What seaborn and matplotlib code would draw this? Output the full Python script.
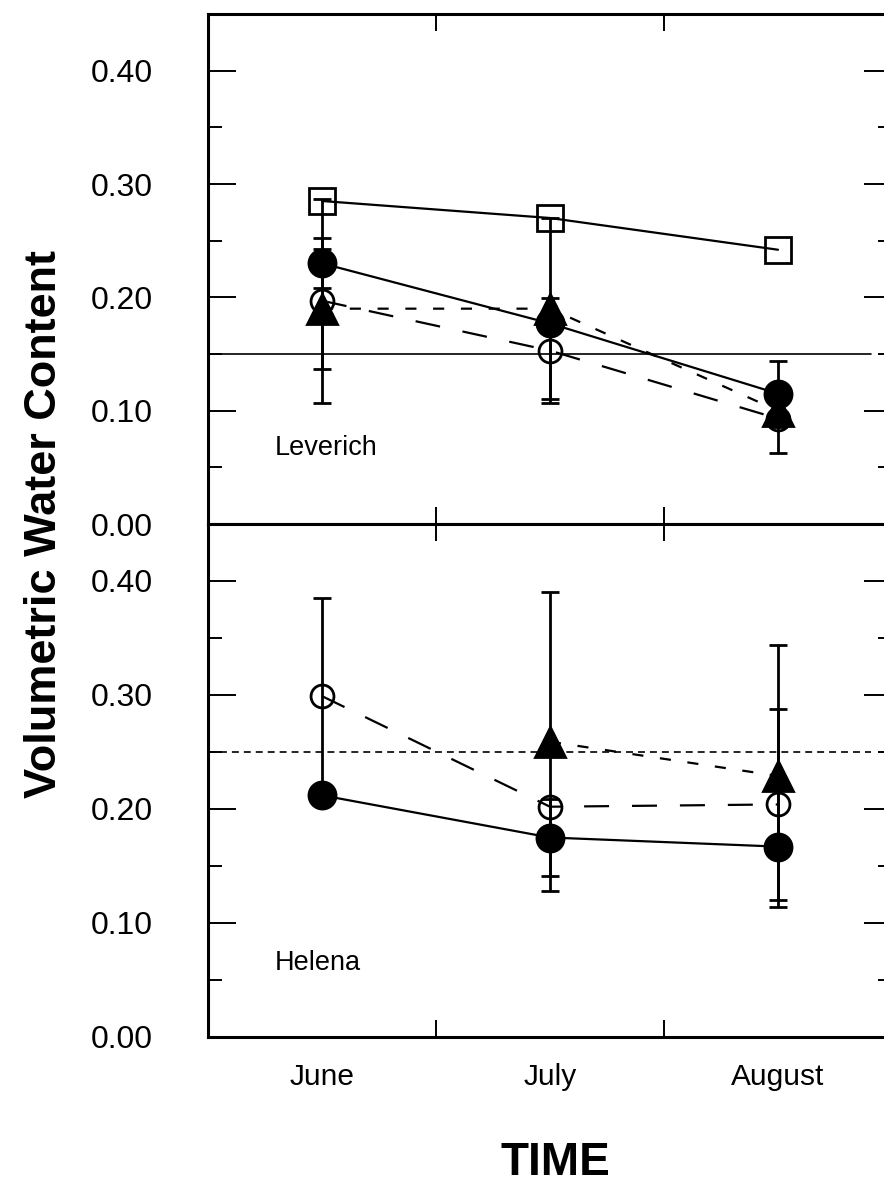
import matplotlib
matplotlib.use("Agg")
import numpy as np
import pandas as pd
import seaborn as sns
import matplotlib.pyplot as plt
from matplotlib.ticker import FormatStrFormatter, FixedLocator

# ---------------- data ----------------
months = ["June", "July", "August"]
sites = ["Leverich", "Helena"]

lev_square = [0.285, 0.270, 0.242]
lev_fcircle = [0.230, 0.177, 0.115]
lev_ocircle = [0.197, 0.153, 0.093]
lev_triangle = [0.190, 0.190, 0.100]
lev_square_err = [np.nan, np.nan, np.nan]
lev_fcircle_err = [0.022, np.nan, 0.029]
lev_ocircle_err = [0.090, 0.046, 0.030]
lev_triangle_err = [0.053, 0.080, np.nan]

hel_fcircle = [0.212, 0.175, 0.167]
hel_ocircle = [0.299, 0.202, 0.204]
hel_triangle = [np.nan, 0.259, 0.229]
hel_fcircle_err = [np.nan, 0.034, np.nan]
hel_ocircle_err = [0.086, np.nan, 0.084]
hel_triangle_err = [np.nan, 0.131, 0.115]

ref_levels = {"Leverich": 0.15, "Helena": 0.25}

rows = []
def add(site, series, vals, errs):
    for m, v, e in zip(months, vals, errs):
        rows.append(dict(site=site, series=series, month=m, value=v, err=e))

add("Leverich", "ocircle", lev_ocircle, lev_ocircle_err)
add("Leverich", "square", lev_square, lev_square_err)
add("Leverich", "triangle", lev_triangle, lev_triangle_err)
add("Leverich", "fcircle", lev_fcircle, lev_fcircle_err)
add("Helena", "ocircle", hel_ocircle, hel_ocircle_err)
add("Helena", "triangle", hel_triangle, hel_triangle_err)
add("Helena", "fcircle", hel_fcircle, hel_fcircle_err)
df = pd.DataFrame(rows)
df["pos"] = df["month"].map({m: i for i, m in enumerate(months)})

# ---------------- style ----------------
sns.set_theme(style="white")
plt.rcParams["font.family"] = ["Liberation Sans", "DejaVu Sans"]
plt.rcParams["lines.scale_dashes"] = False
for key in ["text.color", "axes.labelcolor", "xtick.color", "ytick.color", "axes.edgecolor"]:
    plt.rcParams[key] = "black"

LONG = (0, (18, 16.5))
SHORT = (0, (8, 12))
styles = {
    "square":   dict(marker="s", ms=19, mfc="none", ls="-"),
    "fcircle":  dict(marker="o", ms=19.5, mfc="black", ls="-"),
    "ocircle":  dict(marker="o", ms=16.5, mfc="none", ls=LONG),
    "triangle": dict(marker="^", ms=22, mfc="black", ls=SHORT),
}

W, H = 884, 1191
fig = plt.figure(figsize=(W / 100, H / 100), dpi=100)
left = 208 / W
width = (892 - 208) / W
ax_top = fig.add_axes([left, (H - 524) / H, width, (524 - 14) / H])
ax_bot = fig.add_axes([left, (H - 1037) / H, width, (1037 - 524) / H])

for ax, site in zip([ax_top, ax_bot], sites):
    sub = df[df.site == site]
    for s in sub.series.unique():
        d = sub[(sub.series == s)].dropna(subset=["value"])
        st = styles[s]
        ax.errorbar(d["pos"], d["value"], yerr=d["err"], fmt="none", ecolor="black",
                    elinewidth=2.0, capsize=6.5, capthick=2.0, zorder=1.5)
        sns.lineplot(data=d, x="pos", y="value", ax=ax, color="black", linewidth=1.6,
                     linestyle=st["ls"], marker=st["marker"], markersize=st["ms"],
                     markerfacecolor=st["mfc"], markeredgecolor="black",
                     markeredgewidth=2.0, sort=False, estimator=None,
                     errorbar=None, legend=False, zorder=2)
    lvl = ref_levels[site]
    ax.axhline(lvl, xmin=0, xmax=0.969, color="black", lw=1.2,
               ls="-" if site == "Leverich" else (0, (5, 3.6)), zorder=1)

    ax.set_xlim(-0.5, len(months) - 0.5)
    ax.set_ylim(0, 0.45)
    ax.yaxis.set_major_locator(FixedLocator([0.0, 0.1, 0.2, 0.3, 0.4]))
    ax.yaxis.set_minor_locator(FixedLocator([0.05, 0.15, 0.25, 0.35]))
    ax.yaxis.set_major_formatter(FormatStrFormatter("%.2f"))
    ax.set_xticks(range(len(months)))
    ax.set_xticklabels(months)
    ax.xaxis.set_minor_locator(FixedLocator([0.5, 1.5]))
    ax.tick_params(axis="y", which="major", direction="in", length=20, width=1.4,
                   left=True, right=True, labelsize=23, pad=40, color="black")
    ax.tick_params(axis="y", which="minor", direction="in", length=10, width=1.4,
                   left=True, right=True, color="black")
    ax.tick_params(axis="x", which="major", length=0, labelsize=21.5, pad=19)
    ax.tick_params(axis="x", which="minor", direction="in", length=12, width=1.4,
                   top=True, bottom=True, color="black")
    for sp in ["left", "top", "bottom"]:
        ax.spines[sp].set_linewidth(2.2)
        ax.spines[sp].set_color("black")
    ax.spines["right"].set_visible(False)
    ax.set_xlabel("")
    ax.set_ylabel("")
    ax.grid(False)
    ax.text(67 / 684, (0.067 if site == "Leverich" else 0.065) / 0.45, site,
            transform=ax.transAxes, fontsize=19.5, va="center", ha="left")

ax_top.tick_params(axis="x", labelbottom=False)

fig.text(45 / W, 1 - 524 / H, "Volumetric Water Content", rotation=90,
         fontsize=32.5, fontweight="bold", ha="center", va="center")
fig.text(555 / W, 1 - 1163 / H, "TIME", fontsize=33, fontweight="bold",
         ha="center", va="center")

fig.savefig("out.png", dpi=100)
